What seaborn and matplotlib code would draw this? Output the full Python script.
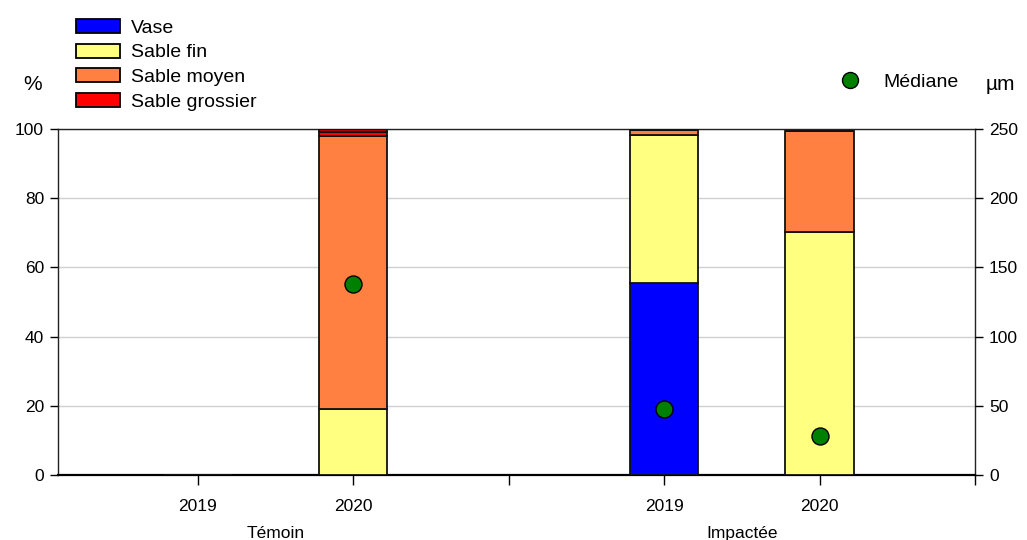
import numpy as np
import matplotlib
matplotlib.use("Agg")
import matplotlib.pyplot as plt
from matplotlib.patches import Patch
from matplotlib.lines import Line2D
import seaborn as sns
import pandas as pd

# --- data ---
stations = ["Témoin", "Témoin", "Impactée", "Impactée"]
years = ["2019", "2020", "2019", "2020"]
positions = [0, 1, 3, 4]

vase = [0.0, 0.0, 55.5, 0.0]
sable_fin = [0.0, 19.2, 42.8, 70.2]
sable_moyen = [0.0, 78.8, 1.5, 29.2]
sable_grossier = [0.0, 1.2, 0.0, 0.0]
gravier = [0.0, 0.8, 0.0, 0.0]

mediane_um = [np.nan, 137.8, 47.7, 28.2]

layers = [
    ("Vase", vase, "#0000FF"),
    ("Sable fin", sable_fin, "#FFFF80"),
    ("Sable moyen", sable_moyen, "#FF8040"),
    ("Sable grossier", sable_grossier, "#FF0000"),
]

sns.set_theme(style="white")
plt.rcParams["font.family"] = ["Liberation Sans", "DejaVu Sans"]
plt.rcParams["text.color"] = "black"
plt.rcParams["xtick.color"] = "black"
plt.rcParams["ytick.color"] = "black"

fig = plt.figure(figsize=(10.27, 5.4), dpi=100)
ax = fig.add_axes([58 / 1027, 1 - 475 / 540, (975 - 58) / 1027, (475 - 129) / 540])

bottom = np.zeros(len(positions))
bar_w = 0.44
for name, vals, col in layers:
    vals = np.array(vals)
    ax.bar(positions, vals, bottom=bottom, width=bar_w, color=col,
           edgecolor="#111111", linewidth=1.3, zorder=3)
    bottom += vals
# thin extra top segment on Témoin 2020 (not in legend)
ax.bar(positions, gravier, bottom=bottom, width=bar_w, color="#B00000",
       edgecolor="#111111", linewidth=1.3, zorder=3)

ax.set_xlim(-0.9, 5.0)
ax.set_ylim(0, 100)
ax.set_yticks([0, 20, 40, 60, 80, 100])
ax.yaxis.grid(True, color="#d0d0d0", linewidth=1.0, zorder=0)
ax.xaxis.grid(False)
ax.set_xticks([0, 1, 2, 3, 4, 5])
ax.set_xticklabels(["2019", "2020", "", "2019", "2020", ""])
ax.tick_params(axis="both", direction="out", length=6, width=1, colors="black",
               labelsize=12.5, pad=4)
ax.tick_params(axis="x", pad=10, length=7)
ax.tick_params(axis="y", left=True)
ax.tick_params(axis="x", bottom=True)
for s in ax.spines.values():
    s.set_color("#222222")
    s.set_linewidth(1.0)
ax.spines["bottom"].set_linewidth(1.6)
ax.spines["bottom"].set_color("black")

# right axis (µm)
ax2 = ax.twinx()
ax2.set_ylim(0, 250)
ax2.set_yticks([0, 50, 100, 150, 200, 250])
ax2.tick_params(axis="y", direction="out", length=6, width=1, right=True,
                colors="black", labelsize=12.5, pad=4)
ax2.grid(False)
for s in ax2.spines.values():
    s.set_visible(False)

med_df = pd.DataFrame({"x": positions, "um": mediane_um}).dropna()
sns.scatterplot(data=med_df, x="x", y="um", ax=ax2, s=150, color="#008000",
                edgecolor="black", linewidth=1.0, zorder=5, legend=False)
ax2.set_xlabel("")
ax2.set_ylabel("")
ax.set_xlabel("")
ax.set_ylabel("")

# group labels
trans = ax.get_xaxis_transform()
ax.text(0.5, -0.168, "Témoin", transform=trans, ha="center", va="center", fontsize=12.5)
ax.text(3.5, -0.168, "Impactée", transform=trans, ha="center", va="center", fontsize=12.5)

# axis unit labels
fig.text(33 / 1027, 1 - 84 / 540, "%", ha="center", va="center", fontsize=15)
fig.text(1000 / 1027, 1 - 84 / 540, "µm", ha="center", va="center", fontsize=15)

# legends
handles = [Patch(facecolor=c, edgecolor="black", linewidth=1.3, label=n)
           for n, _, c in layers]
fig.legend(handles=handles, loc="upper left", bbox_to_anchor=(76 / 1027, 1 - 19 / 540),
           frameon=False, fontsize=14, handlelength=2.27, handleheight=0.72,
           handletextpad=0.57, labelspacing=0.36, borderpad=0, borderaxespad=0)

med_handle = Line2D([], [], marker="o", linestyle="none", markersize=11.5,
                    markerfacecolor="#008000", markeredgecolor="black", label="Médiane")
fig.legend(handles=[med_handle], loc="center left", bbox_to_anchor=(835.5 / 1027, 1 - 82 / 540),
           frameon=False, fontsize=14, handlelength=1.5, handletextpad=0.95,
           borderpad=0, borderaxespad=0)

fig.savefig("out.png", dpi=100)
